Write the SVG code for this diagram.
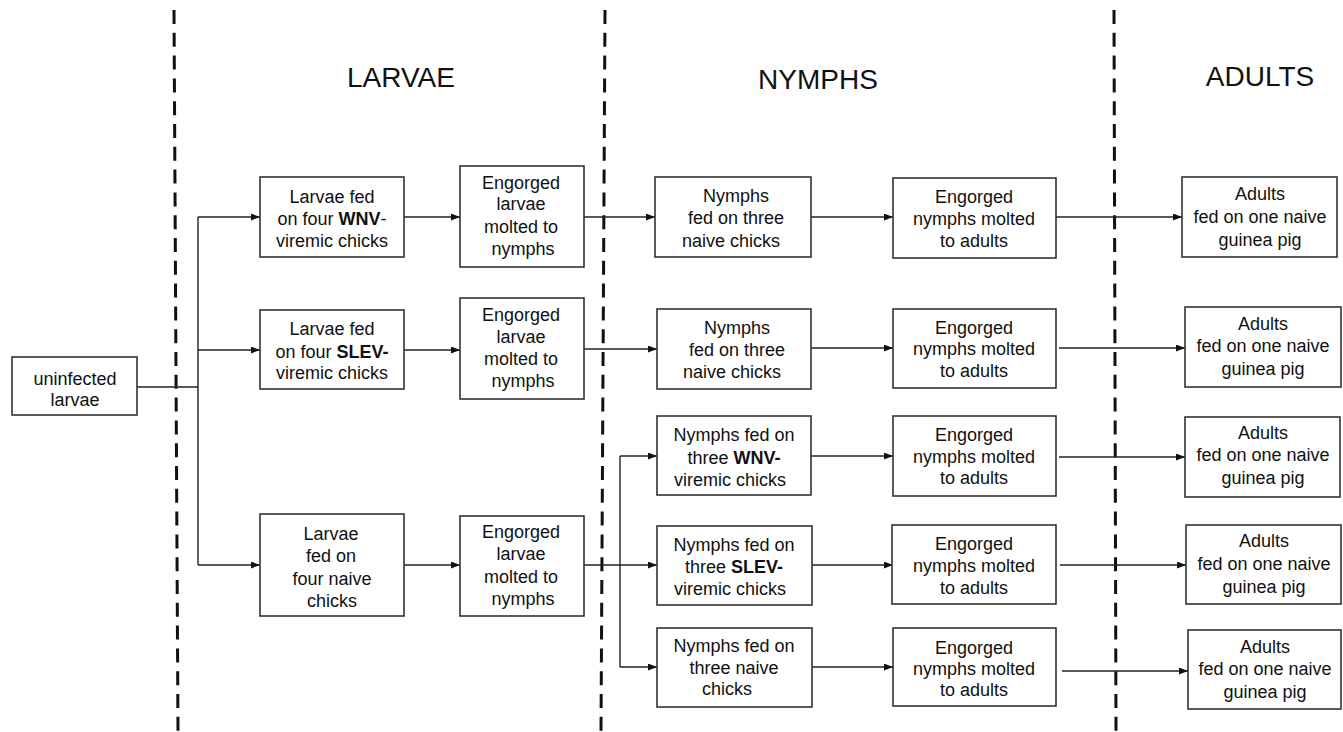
<svg xmlns="http://www.w3.org/2000/svg" width="1343" height="732" viewBox="0 0 1343 732">
<defs>
<marker id="arr" markerUnits="userSpaceOnUse" markerWidth="9" markerHeight="7" refX="9" refY="3.5" orient="auto">
<path d="M0,0 L9,3.5 L0,7 z" fill="#111"/>
</marker>
<style>
.box{fill:#fff;stroke:#333;stroke-width:1.6}
.t{font-family:"Liberation Sans",Arial,sans-serif;font-size:18px;fill:#111;text-anchor:middle}
.b{font-weight:bold}
.title{font-family:"Liberation Sans",Arial,sans-serif;font-size:28px;fill:#111;text-anchor:middle}
.dash{stroke:#111;stroke-width:3;stroke-dasharray:14 8.8;fill:none}
.c{stroke:#222;stroke-width:1.4;fill:none}
.a{marker-end:url(#arr)}
</style>
</defs>
<rect width="1343" height="732" fill="#fff"/>

<g id="dividers">
<line class="dash" x1="174" y1="10" x2="178" y2="732"/>
<line class="dash" x1="605" y1="10" x2="601" y2="732"/>
<line class="dash" x1="1114" y1="10" x2="1116" y2="732"/>
</g>

<g id="titles">
<text class="title" x="401" y="87">LARVAE</text>
<text class="title" x="818" y="89">NYMPHS</text>
<text class="title" x="1260" y="86">ADULTS</text>
</g>

<g id="connectors">
<path class="c" d="M137 387 H198 M198 217 V565"/>
<path class="c a" d="M198 217 H260"/>
<path class="c a" d="M198 350 H260"/>
<path class="c a" d="M198 565 H260"/>
<path class="c a" d="M404 217 H460"/>
<path class="c a" d="M404 350 H460"/>
<path class="c a" d="M404 565 H460"/>
<path class="c a" d="M584 217 H655"/>
<path class="c a" d="M584 349 H657"/>
<path class="c" d="M584 565 H620 M620 456 V667"/>
<path class="c a" d="M620 456 H657"/>
<path class="c a" d="M620 565 H657"/>
<path class="c a" d="M620 667 H657"/>
<path class="c a" d="M811 217 H893"/>
<path class="c a" d="M811 348 H893"/>
<path class="c a" d="M811 456 H893"/>
<path class="c a" d="M812 565 H893"/>
<path class="c a" d="M812 667 H893"/>
<path class="c a" d="M1056 217 H1182"/>
<path class="c a" d="M1059 348 H1185"/>
<path class="c a" d="M1059 457 H1185"/>
<path class="c a" d="M1060 565 H1186"/>
<path class="c a" d="M1062 671 H1188"/>
</g>

<g id="n_uninfected">
<rect class="box" x="12" y="357" width="125" height="58"/>
<text class="t" x="75" y="384.5">uninfected</text>
<text class="t" x="75" y="405.5">larvae</text>
</g>

<g id="n_larvae_wnv">
<rect class="box" x="260" y="177" width="144" height="80"/>
<text class="t" x="332" y="202.5">Larvae fed</text>
<text class="t" x="332" y="224.5">on four <tspan class="b">WNV</tspan>-</text>
<text class="t" x="332" y="246.5">viremic chicks</text>
</g>

<g id="n_larvae_slev">
<rect class="box" x="260" y="310" width="144" height="79"/>
<text class="t" x="332" y="334.5">Larvae fed</text>
<text class="t" x="332" y="357.5">on four <tspan class="b">SLEV-</tspan></text>
<text class="t" x="332" y="378.5">viremic chicks</text>
</g>

<g id="n_larvae_naive">
<rect class="box" x="260" y="514" width="144" height="102"/>
<text class="t" x="331" y="539.5">Larvae</text>
<text class="t" x="331" y="561.5">fed on</text>
<text class="t" x="332" y="584.5">four naive</text>
<text class="t" x="332" y="606.5">chicks</text>
</g>

<g id="n_eng_larvae1">
<rect class="box" x="460" y="166" width="124" height="101"/>
<text class="t" x="521" y="188.5">Engorged</text>
<text class="t" x="521" y="209.5">larvae</text>
<text class="t" x="521" y="232.5">molted to</text>
<text class="t" x="523" y="254.5">nymphs</text>
</g>

<g id="n_eng_larvae2">
<rect class="box" x="460" y="298" width="124" height="101"/>
<text class="t" x="521" y="320.5">Engorged</text>
<text class="t" x="521" y="342.5">larvae</text>
<text class="t" x="521" y="364.5">molted to</text>
<text class="t" x="523" y="386.5">nymphs</text>
</g>

<g id="n_eng_larvae3">
<rect class="box" x="460" y="516" width="124" height="100"/>
<text class="t" x="521" y="537.5">Engorged</text>
<text class="t" x="521" y="559.5">larvae</text>
<text class="t" x="521" y="582.5">molted to</text>
<text class="t" x="523" y="604.5">nymphs</text>
</g>

<g id="n_nymphs_naive1">
<rect class="box" x="655" y="177" width="156" height="80"/>
<text class="t" x="736" y="201.5">Nymphs</text>
<text class="t" x="736" y="223.5">fed on three</text>
<text class="t" x="731" y="246.5">naive chicks</text>
</g>

<g id="n_nymphs_naive2">
<rect class="box" x="657" y="309" width="154" height="80"/>
<text class="t" x="737" y="333.5">Nymphs</text>
<text class="t" x="737" y="355.5">fed on three</text>
<text class="t" x="732" y="377.5">naive chicks</text>
</g>

<g id="n_nymphs_wnv">
<rect class="box" x="657" y="416" width="154" height="79"/>
<text class="t" x="734" y="440.5">Nymphs fed on</text>
<text class="t" x="734" y="463.5">three <tspan class="b">WNV-</tspan></text>
<text class="t" x="730" y="485.5">viremic chicks</text>
</g>

<g id="n_nymphs_slev">
<rect class="box" x="657" y="526" width="155" height="79"/>
<text class="t" x="734" y="550.5">Nymphs fed on</text>
<text class="t" x="734" y="572.5">three <tspan class="b">SLEV-</tspan></text>
<text class="t" x="730" y="594.5">viremic chicks</text>
</g>

<g id="n_nymphs_naive3">
<rect class="box" x="657" y="628" width="155" height="79"/>
<text class="t" x="734" y="651.5">Nymphs fed on</text>
<text class="t" x="734" y="673.5">three naive</text>
<text class="t" x="727" y="694.5">chicks</text>
</g>

<g id="n_eng_nymphs1">
<rect class="box" x="893" y="178" width="163" height="80"/>
<text class="t" x="974" y="202.5">Engorged</text>
<text class="t" x="974" y="224.5">nymphs molted</text>
<text class="t" x="974" y="246.5">to adults</text>
</g>

<g id="n_eng_nymphs2">
<rect class="box" x="893" y="309" width="163" height="79"/>
<text class="t" x="974" y="333.5">Engorged</text>
<text class="t" x="974" y="354.5">nymphs molted</text>
<text class="t" x="974" y="376.5">to adults</text>
</g>

<g id="n_eng_nymphs3">
<rect class="box" x="893" y="416" width="163" height="80"/>
<text class="t" x="974" y="440.5">Engorged</text>
<text class="t" x="974" y="462.5">nymphs molted</text>
<text class="t" x="974" y="483.5">to adults</text>
</g>

<g id="n_eng_nymphs4">
<rect class="box" x="892" y="525" width="164" height="79"/>
<text class="t" x="974" y="549.5">Engorged</text>
<text class="t" x="974" y="571.5">nymphs molted</text>
<text class="t" x="974" y="593.5">to adults</text>
</g>

<g id="n_eng_nymphs5">
<rect class="box" x="893" y="628" width="163" height="78"/>
<text class="t" x="974" y="653.5">Engorged</text>
<text class="t" x="974" y="674.5">nymphs molted</text>
<text class="t" x="974" y="695.5">to adults</text>
</g>

<g id="n_adults1">
<rect class="box" x="1182" y="177" width="155" height="80"/>
<text class="t" x="1260" y="199.5">Adults</text>
<text class="t" x="1260" y="222.5">fed on one naive</text>
<text class="t" x="1260" y="245.5">guinea pig</text>
</g>

<g id="n_adults2">
<rect class="box" x="1185" y="307" width="156" height="80"/>
<text class="t" x="1263" y="329.5">Adults</text>
<text class="t" x="1263" y="351.5">fed on one naive</text>
<text class="t" x="1263" y="374.5">guinea pig</text>
</g>

<g id="n_adults3">
<rect class="box" x="1185" y="417" width="155" height="80"/>
<text class="t" x="1263" y="438.5">Adults</text>
<text class="t" x="1263" y="460.5">fed on one naive</text>
<text class="t" x="1263" y="483.5">guinea pig</text>
</g>

<g id="n_adults4">
<rect class="box" x="1186" y="525" width="155" height="79"/>
<text class="t" x="1264" y="546.5">Adults</text>
<text class="t" x="1264" y="569.5">fed on one naive</text>
<text class="t" x="1264" y="592.5">guinea pig</text>
</g>

<g id="n_adults5">
<rect class="box" x="1188" y="630" width="153" height="79"/>
<text class="t" x="1265" y="652.5">Adults</text>
<text class="t" x="1265" y="674.5">fed on one naive</text>
<text class="t" x="1265" y="697.5">guinea pig</text>
</g>
</svg>
